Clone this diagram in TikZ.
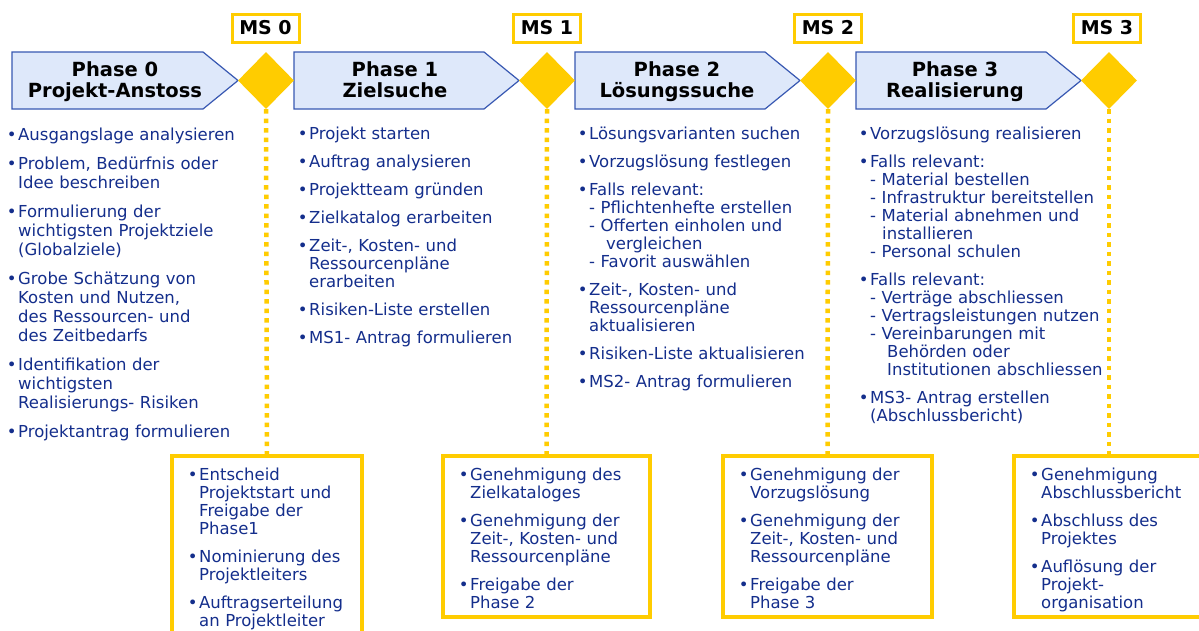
\documentclass[tikz,border=0pt]{standalone}
\usepackage{fontspec}
\setmainfont{DejaVu Sans}
\usepackage{enumitem}
\usetikzlibrary{shapes.geometric}

\definecolor{msyellow}{RGB}{255,204,0}
\definecolor{phasefill}{RGB}{222,232,250}
\definecolor{phaseline}{RGB}{56,88,178}
\definecolor{itemblue}{RGB}{20,46,140}

\newlist{punkte}{itemize}{1}
\setlist[punkte]{label=\textbullet, nosep, itemsep=10pt, leftmargin=10pt, labelsep=1.5pt}

\tikzset{
	phase/.style={draw=phaseline, fill=phasefill, line width=1.2pt, line join=miter},
	phasetitle/.style={font=\fontsize{19.5}{21}\selectfont\bfseries, align=center, text depth=5pt},
	milestone/.style={diamond, fill=msyellow, minimum width=56pt, minimum height=57pt, inner sep=0pt},
	mslabel/.style={draw=msyellow, fill=white, line width=3pt, minimum width=67pt, minimum height=28pt, inner sep=0pt, font=\fontsize{19}{21}\selectfont\bfseries},
	msdots/.style={draw=msyellow, line width=4.5pt, dash pattern=on 4.5pt off 5pt},
	msbox/.style={draw=msyellow, line width=3.5pt, outer sep=0pt, inner sep=0pt, anchor=north},
	tasklist/.style={anchor=north west, inner sep=0pt, text width=#1, align=left, text=itemblue, font=\fontsize{16.5}{18}\selectfont},
}

\begin{document}
\begin{tikzpicture}[x=1pt, y=-1pt]
	\useasboundingbox[fill=white] (0,0) rectangle (1199,630);
	\clip (0,0) rectangle (1199,630);

	% phase arrows
	\draw[phase] (12,52) -- (203,52) -- (238,80.5) -- (203,109) -- (12,109) -- cycle;
	\node[phasetitle] (p0) at (115,82.5) {Phase 0\\ Projekt-Anstoss};
	\draw[phase] (294,52) -- (484,52) -- (519,80.5) -- (484,109) -- (294,109) -- cycle;
	\node[phasetitle] (p1) at (395,82.5) {Phase 1\\ Zielsuche};
	\draw[phase] (575,52) -- (765,52) -- (800,80.5) -- (765,109) -- (575,109) -- cycle;
	\node[phasetitle] (p2) at (677,82.5) {Phase 2\\ Lösungssuche};
	\draw[phase] (856,52) -- (1046,52) -- (1081,80.5) -- (1046,109) -- (856,109) -- cycle;
	\node[phasetitle] (p3) at (955,82.5) {Phase 3\\ Realisierung};

	% milestones
	\node[milestone] (d0) at (266,80.5) {};
	\node[milestone] (d1) at (547,80.5) {};
	\node[milestone] (d2) at (828,80.5) {};
	\node[milestone] (d3) at (1109,80.5) {};
	\node[mslabel] (m0) at (265.5,28) {MS 0};
	\node[mslabel] (m1) at (547,28) {MS 1};
	\node[mslabel] (m2) at (828,28) {MS 2};
	\node[mslabel] (m3) at (1107,28) {MS 3};

	% decision boxes
	\node[msbox, minimum width=190pt, minimum height=200pt] (b0) at (267,456) {};
	\node[msbox, minimum width=207pt, minimum height=161pt] (b1) at (546.5,456) {};
	\node[msbox, minimum width=209pt, minimum height=161pt] (b2) at (827.5,456) {};
	\node[msbox, minimum width=190pt, minimum height=161pt] (b3) at (1109,456) {};

	\draw[msdots] (d0.south) -- (b0.north);
	\draw[msdots] (d1.south) -- (b1.north);
	\draw[msdots] (d2.south) -- (b2.north);
	\draw[msdots] (d3.south) -- (b3.north);

	% phase 0
	\node[tasklist=270pt, font=\fontsize{16.5}{19}\selectfont] (c0) at (8,121.5) {%
		\begin{punkte}
		\item Ausgangslage analysieren
		\item Problem, Bedürfnis oder\\ Idee beschreiben
		\item Formulierung der\\ wichtigsten Projektziele\\ (Globalziele)
		\item Grobe Schätzung von\\ Kosten und Nutzen,\\ des Ressourcen- und\\ des Zeitbedarfs
		\item Identifikation der\\ wichtigsten\\ Realisierungs- Risiken
		\item Projektantrag formulieren
		\end{punkte}};
	% phase 1
	\node[tasklist=270pt] (c1) at (299,121.5) {%
		\begin{punkte}
		\item Projekt starten
		\item Auftrag analysieren
		\item Projektteam gründen
		\item Zielkatalog erarbeiten
		\item Zeit-, Kosten- und\\ Ressourcenpläne\\ erarbeiten
		\item Risiken-Liste erstellen
		\item MS1- Antrag formulieren
		\end{punkte}};
	% phase 2
	\node[tasklist=270pt] (c2) at (579,121.5) {%
		\begin{punkte}
		\item Lösungsvarianten suchen
		\item Vorzugslösung festlegen
		\item Falls relevant:\\ - Pflichtenhefte erstellen\\ - Offerten einholen und\\ \hspace*{17pt}vergleichen\\ - Favorit auswählen
		\item Zeit-, Kosten- und\\ Ressourcenpläne\\ aktualisieren
		\item Risiken-Liste aktualisieren
		\item MS2- Antrag formulieren
		\end{punkte}};
	% phase 3
	\node[tasklist=270pt] (c3) at (860,121.5) {%
		\begin{punkte}
		\item Vorzugslösung realisieren
		\item Falls relevant:\\ - Material bestellen\\ - Infrastruktur bereitstellen\\ - Material abnehmen und\\ \hspace*{12pt}installieren\\ - Personal schulen
		\item Falls relevant:\\ - Verträge abschliessen\\ - Vertragsleistungen nutzen\\ - Vereinbarungen mit\\ \hspace*{17pt}Behörden oder\\ \hspace*{17pt}Institutionen abschliessen
		\item MS3- Antrag erstellen\\ (Abschlussbericht)
		\end{punkte}};

	% milestone decisions
	\node[tasklist=170pt] (t0) at ([xshift=17pt,yshift=-6.5pt]b0.north west) {%
		\begin{punkte}
		\item Entscheid\\ Projektstart und\\ Freigabe der\\ Phase1
		\item Nominierung des\\ Projektleiters
		\item Auftragserteilung\\ an Projektleiter
		\end{punkte}};
	\node[tasklist=185pt] (t1) at ([xshift=17pt,yshift=-6.5pt]b1.north west) {%
		\begin{punkte}
		\item Genehmigung des\\ Zielkataloges
		\item Genehmigung der\\ Zeit-, Kosten- und\\ Ressourcenpläne
		\item Freigabe der\\ Phase 2
		\end{punkte}};
	\node[tasklist=185pt] (t2) at ([xshift=17pt,yshift=-6.5pt]b2.north west) {%
		\begin{punkte}
		\item Genehmigung der\\ Vorzugslösung
		\item Genehmigung der\\ Zeit-, Kosten- und\\ Ressourcenpläne
		\item Freigabe der\\ Phase 3
		\end{punkte}};
	\node[tasklist=170pt] (t3) at ([xshift=17pt,yshift=-6.5pt]b3.north west) {%
		\begin{punkte}
		\item Genehmigung\\ Abschlussbericht
		\item Abschluss des\\ Projektes
		\item Auflösung der\\ Projekt-\\ organisation
		\end{punkte}};
\end{tikzpicture}
\end{document}
